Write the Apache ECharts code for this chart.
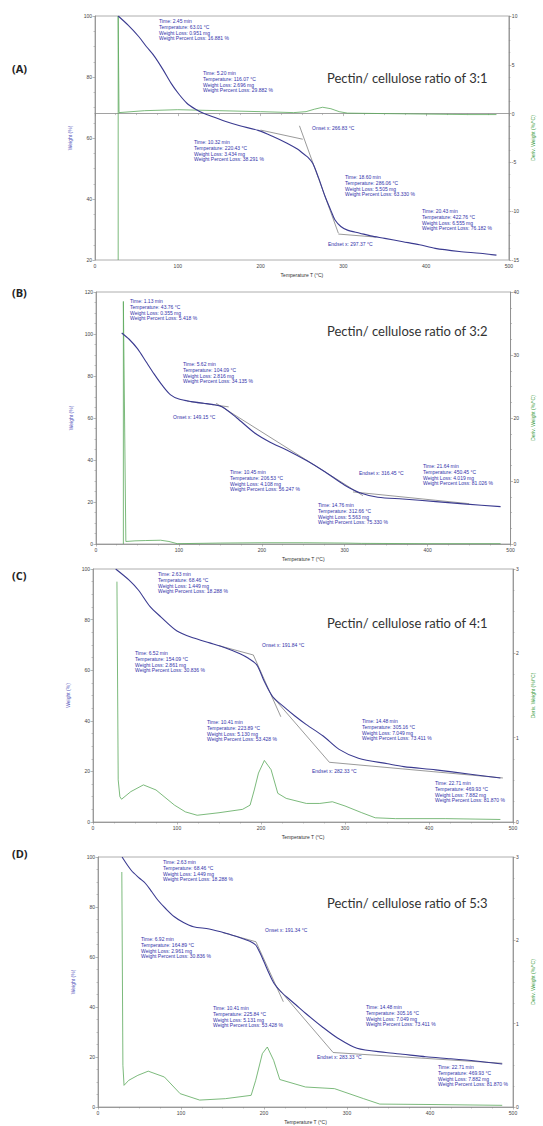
<!DOCTYPE html>
<html><head><meta charset="utf-8">
<script src="https://cdn.jsdelivr.net/npm/echarts@6/dist/echarts.min.js"></script>
<style>html,body{margin:0;padding:0;background:#fff}#c{width:543px;height:1126px}</style>
</head><body><div id="c"></div>
<script>
// ---------- DATA ----------
const xTicks = [0, 100, 200, 300, 400, 500];
const panelLabels = ['(A)', '(B)', '(C)', '(D)'];
const titles = ['Pectin/ cellulose ratio of 3:1', 'Pectin/ cellulose ratio of 3:2', 'Pectin/ cellulose ratio of 4:1', 'Pectin/ cellulose ratio of 5:3'];

// Panel A
const tempA   = [28, 40, 53, 62, 72, 82, 92, 101, 111, 121, 131, 145, 158, 175, 197, 215, 232, 245, 251, 257, 263, 270, 278, 285, 290, 297, 305, 320, 333, 350, 372, 392, 411, 440, 465, 485];
const weightA = [100, 97, 93.2, 90, 86.7, 82.5, 77.9, 74.5, 71.4, 69.5, 68.1, 66.7, 65.4, 64, 62.5, 60.5, 58.3, 56.3, 55, 53.7, 51.7, 47, 40.8, 36.2, 33.1, 31, 29.8, 28.8, 27.9, 27.1, 26, 25, 23.8, 22.8, 22.2, 21.6];
const dTempA  = [28, 28, 29, 60, 100, 150, 200, 240, 255, 265, 275, 285, 295, 305, 350, 400, 450, 485];
const derivA  = [-15, 10, 0.1, 0.3, 0.4, 0.3, 0.2, 0.1, 0.2, 0.45, 0.65, 0.5, 0.2, 0.05, 0, -0.05, -0.1, -0.1];
const tangA   = [[[200, 62.6], [251, 59.6]], [[247, 64], [294, 28.8]], [[294, 28.5], [340, 27.5]]];

// Panel B
const tempB   = [31, 40, 50, 60, 70, 80, 90, 100, 115, 130, 140, 152, 170, 191, 210, 230, 255, 276, 300, 319, 340, 370, 410, 447, 488];
const weightB = [100.5, 97.5, 93, 87, 81, 75.5, 71, 69, 67.8, 67, 66.5, 65.4, 60, 53, 48.5, 44.8, 39.5, 34.4, 28, 24.3, 22.3, 21.4, 20.2, 19, 17.8];
const dTempB  = [33, 33, 36, 47, 60, 78, 88, 98, 150, 200, 250, 300, 320, 400, 488];
const derivB  = [0, 38.5, 0.4, 0.5, 0.55, 0.6, 0.4, 0.05, 0.15, 0.2, 0.2, 0.15, 0.1, 0.05, 0.05];
const tangB   = [[[110, 68], [160, 65.3]], [[145, 67], [322, 23]], [[310, 24.8], [450, 19.2]]];

// Panel C
const tempC   = [27, 43, 54, 68, 81, 100, 120, 139, 158, 175, 185, 195, 204, 214, 227, 240, 254, 274, 293, 316, 351, 370, 408, 447, 485];
const weightC = [100, 95.6, 91.7, 85.1, 81, 75.5, 72.7, 70.8, 68.8, 66.5, 64.7, 62.1, 55.5, 49.5, 45.6, 42, 38.5, 34, 28.7, 25.2, 23, 21.9, 20.6, 19, 17.4];
const dTempC  = [28.5, 30, 32, 34, 45, 60, 75, 97, 110, 124, 150, 178, 187, 192, 197, 204, 212, 220, 230, 254, 270, 285, 300, 320, 336, 360, 420, 485];
const derivC  = [2.85, 0.5, 0.3, 0.27, 0.36, 0.44, 0.38, 0.2, 0.12, 0.08, 0.11, 0.15, 0.2, 0.38, 0.58, 0.73, 0.62, 0.34, 0.28, 0.22, 0.22, 0.24, 0.19, 0.11, 0.05, 0.04, 0.04, 0.03];
const tangC   = [[[150, 69.7], [191, 66]], [[190.9, 66], [223.6, 41.6]], [[212, 50.2], [281.4, 23.6]], [[281.4, 23.6], [488, 17.4]]];

// Panel D
const tempD   = [29, 40, 50, 57, 65, 72, 82, 92, 103, 115, 134, 154, 173, 183, 190, 195, 200, 206, 212, 219, 227, 238, 250, 270, 289, 312, 347, 367, 395, 425, 455, 487];
const weightD = [100, 94.7, 91.5, 89.5, 86, 82.8, 79.2, 76.1, 73.8, 72.1, 71.2, 69.5, 67.5, 66.3, 64.8, 61.8, 58.1, 53.5, 49.5, 46.6, 44.1, 41, 37.5, 32.1, 27.5, 23.5, 21.8, 21.1, 20.1, 19.3, 18.4, 17.2];
const dTempD  = [28.7, 30, 31.4, 37, 48, 60.5, 80, 99, 122.5, 153.5, 184.5, 190, 198, 204, 211.6, 219, 250, 285, 320, 339.5, 400, 487];
const derivD  = [2.82, 0.5, 0.26, 0.32, 0.38, 0.43, 0.36, 0.16, 0.083, 0.1, 0.14, 0.32, 0.64, 0.72, 0.56, 0.33, 0.24, 0.22, 0.1, 0.035, 0.03, 0.02];
const tangD   = [[[150, 69.8], [190.3, 66.1]], [[190.3, 66.1], [223.3, 42.1]], [[213.6, 48.8], [283.3, 21.8]], [[283.3, 21.8], [487, 17.5]]];

// Annotation texts
const notesA = [
  'Time: 2.45 min\nTemperature: 63.01 °C\nWeight Loss: 0.951 mg\nWeight Percent Loss: 16.881 %',
  'Time: 5.20 min\nTemperature: 116.07 °C\nWeight Loss: 2.696 mg\nWeight Percent Loss: 29.882 %',
  'Onset x: 266.83 °C',
  'Time: 10.32 min\nTemperature: 220.43 °C\nWeight Loss: 3.434 mg\nWeight Percent Loss: 38.291 %',
  'Time: 18.60 min\nTemperature: 286.06 °C\nWeight Loss: 5.505 mg\nWeight Percent Loss: 63.330 %',
  'Time: 20.43 min\nTemperature: 422.76 °C\nWeight Loss: 6.555 mg\nWeight Percent Loss: 76.182 %',
  'Endset x: 297.37 °C'];
const notesB = [
  'Time: 1.13 min\nTemperature: 43.76 °C\nWeight Loss: 0.355 mg\nWeight Percent Loss: 5.418 %',
  'Time: 5.62 min\nTemperature: 104.09 °C\nWeight Loss: 2.816 mg\nWeight Percent Loss: 34.135 %',
  'Onset x: 149.15 °C',
  'Time: 10.45 min\nTemperature: 206.53 °C\nWeight Loss: 4.108 mg\nWeight Percent Loss: 56.247 %',
  'Time: 14.76 min\nTemperature: 312.66 °C\nWeight Loss: 5.563 mg\nWeight Percent Loss: 75.330 %',
  'Endset x: 316.45 °C',
  'Time: 21.64 min\nTemperature: 450.45 °C\nWeight Loss: 4.019 mg\nWeight Percent Loss: 81.026 %'];
const notesC = [
  'Time: 2.63 min\nTemperature: 68.46 °C\nWeight Loss: 1.449 mg\nWeight Percent Loss: 18.288 %',
  'Time: 6.52 min\nTemperature: 154.09 °C\nWeight Loss: 2.861 mg\nWeight Percent Loss: 30.836 %',
  'Onset x: 191.84 °C',
  'Time: 10.41 min\nTemperature: 223.89 °C\nWeight Loss: 5.130 mg\nWeight Percent Loss: 53.428 %',
  'Time: 14.48 min\nTemperature: 305.16 °C\nWeight Loss: 7.049 mg\nWeight Percent Loss: 73.411 %',
  'Endset x: 282.33 °C',
  'Time: 22.71 min\nTemperature: 469.93 °C\nWeight Loss: 7.882 mg\nWeight Percent Loss: 81.870 %'];
const notesD = [
  'Time: 2.63 min\nTemperature: 68.46 °C\nWeight Loss: 1.449 mg\nWeight Percent Loss: 18.288 %',
  'Time: 6.92 min\nTemperature: 164.89 °C\nWeight Loss: 2.961 mg\nWeight Percent Loss: 30.836 %',
  'Onset x: 191.34 °C',
  'Time: 10.41 min\nTemperature: 225.84 °C\nWeight Loss: 5.131 mg\nWeight Percent Loss: 53.428 %',
  'Time: 14.48 min\nTemperature: 305.16 °C\nWeight Loss: 7.049 mg\nWeight Percent Loss: 73.411 %',
  'Endset x: 283.33 °C',
  'Time: 22.71 min\nTemperature: 469.93 °C\nWeight Loss: 7.882 mg\nWeight Percent Loss: 81.870 %'];

// ---------- LAYOUT ----------
const zip = (a, b) => a.map((v, i) => [v, b[i]]);
const grids = [
  {left: 95, right: 20, top: 16, height: 244},
  {left: 96, right: 18, top: 292, height: 252},
  {left: 93, right: 17, top: 569, height: 253},
  {left: 98, right: 15, top: 857, height: 250}];
const leftRange = [[20, 100, 20], [0, 120, 20], [0, 100, 20], [0, 100, 20]];
const rightRange = [[-15, 10, 5], [0, 40, 10], [0, 3, 1], [0, 3, 1]];
const notePos = [
  [[159,18],[203,70],[312,125],[194,139],[345,174],[422,208],[328,241]],
  [[130,298],[183,361],[173,414],[230,469],[318,502],[359,470],[423,463]],
  [[158,571],[135,650],[262,642],[207,719],[362,718],[312,768],[435,780]],
  [[163,859],[141,936],[265,927],[213,1005],[366,1004],[317,1054],[438,1064]]];
const titleY = [80, 333, 625, 905];
const labelY = [70, 294, 577, 855];

const panels = [
  {t: tempA, w: weightA, dt: dTempA, d: derivA, tang: tangA, notes: notesA},
  {t: tempB, w: weightB, dt: dTempB, d: derivB, tang: tangB, notes: notesB},
  {t: tempC, w: weightC, dt: dTempC, d: derivC, tang: tangC, notes: notesC},
  {t: tempD, w: weightD, dt: dTempD, d: derivD, tang: tangD, notes: notesD}];

const FONT = 'Liberation Sans';
const axisCol = '#8a8a8a';
const xAxis = [], yAxis = [], series = [], graphic = [];
panels.forEach((p, i) => {
  xAxis.push({
    type: 'value', gridIndex: i, min: xTicks[0], max: xTicks[xTicks.length - 1], interval: 100,
    name: 'Temperature T (°C)', nameLocation: 'middle', nameGap: 12,
    nameTextStyle: {fontSize: 5, color: '#333', fontFamily: FONT},
    axisLine: {lineStyle: {color: axisCol, width: 0.8}},
    axisTick: {length: 2.5, lineStyle: {color: axisCol, width: 0.6}},
    minorTick: {show: true, splitNumber: 4, length: 1.5, lineStyle: {color: axisCol, width: 0.5}},
    axisLabel: {fontSize: 5, color: '#444', margin: 3, fontFamily: FONT},
    splitLine: {show: false}
  });
  const [lmin, lmax, lint] = leftRange[i];
  yAxis.push({
    type: 'value', gridIndex: i, min: lmin, max: lmax, interval: lint, position: 'left',
    name: 'Weight (%)', nameLocation: 'middle', nameGap: 20, nameRotate: 90,
    nameTextStyle: {fontSize: 5, color: '#5555bb', fontFamily: FONT},
    axisLine: {show: true, lineStyle: {color: axisCol, width: 0.8}},
    axisTick: {show: true, length: 2.5, lineStyle: {color: axisCol, width: 0.6}},
    minorTick: {show: true, splitNumber: 4, length: 1.5, lineStyle: {color: axisCol, width: 0.5}},
    axisLabel: {fontSize: 5, color: '#444', margin: 3, fontFamily: FONT},
    splitLine: {show: false}
  });
  const [rmin, rmax, rint] = rightRange[i];
  yAxis.push({
    type: 'value', gridIndex: i, min: rmin, max: rmax, interval: rint, position: 'right',
    name: 'Deriv. Weight (%/°C)', nameLocation: 'middle', nameGap: 17, nameRotate: 90,
    nameTextStyle: {fontSize: 5, color: '#3a9a3a', fontFamily: FONT},
    axisLine: {show: true, lineStyle: {color: axisCol, width: 0.8}},
    axisTick: {show: true, length: 2.5, lineStyle: {color: axisCol, width: 0.6}},
    minorTick: {show: true, splitNumber: 4, length: 1.5, lineStyle: {color: axisCol, width: 0.5}},
    axisLabel: {fontSize: 5, color: '#444', margin: 3, fontFamily: FONT},
    splitLine: {show: false}
  });
  series.push({
    type: 'line', xAxisIndex: i, yAxisIndex: 2 * i + 1, data: zip(p.dt, p.d),
    showSymbol: false, lineStyle: {color: '#5aa85a', width: 0.8}, z: 2, silent: true
  });
  p.tang.forEach(seg => series.push({
    type: 'line', xAxisIndex: i, yAxisIndex: 2 * i, data: seg,
    showSymbol: false, lineStyle: {color: '#555', width: 0.6}, z: 3, silent: true
  }));
  series.push({
    type: 'line', xAxisIndex: i, yAxisIndex: 2 * i, data: zip(p.t, p.w),
    smooth: 0.3,
    showSymbol: false, lineStyle: {color: '#3a3a90', width: 1.1}, z: 4, silent: true
  });
  // texts
  graphic.push({type: 'text', left: 12, top: labelY[i] - 7,
    style: {text: panelLabels[i], font: 'bold 11px "Open Sans"', fill: '#222'}});
  graphic.push({type: 'text', left: 327, top: titleY[i] - 9,
    style: {text: titles[i], font: '13px Lato', fill: '#333'}});
  p.notes.forEach((n, k) => graphic.push({type: 'text', left: notePos[i][k][0], top: notePos[i][k][1],
    style: {text: n, font: '5px "Liberation Sans"', lineHeight: 5.8, fill: '#3333aa'}}));
});

const chart = echarts.init(document.getElementById('c'), null, {renderer: 'svg'});
chart.setOption({
  animation: false,
  grid: grids.map(g => Object.assign({show: true, borderColor: '#999', borderWidth: 0.8, backgroundColor: 'transparent'}, g)),
  xAxis, yAxis, series, graphic
});
</script></body></html>
